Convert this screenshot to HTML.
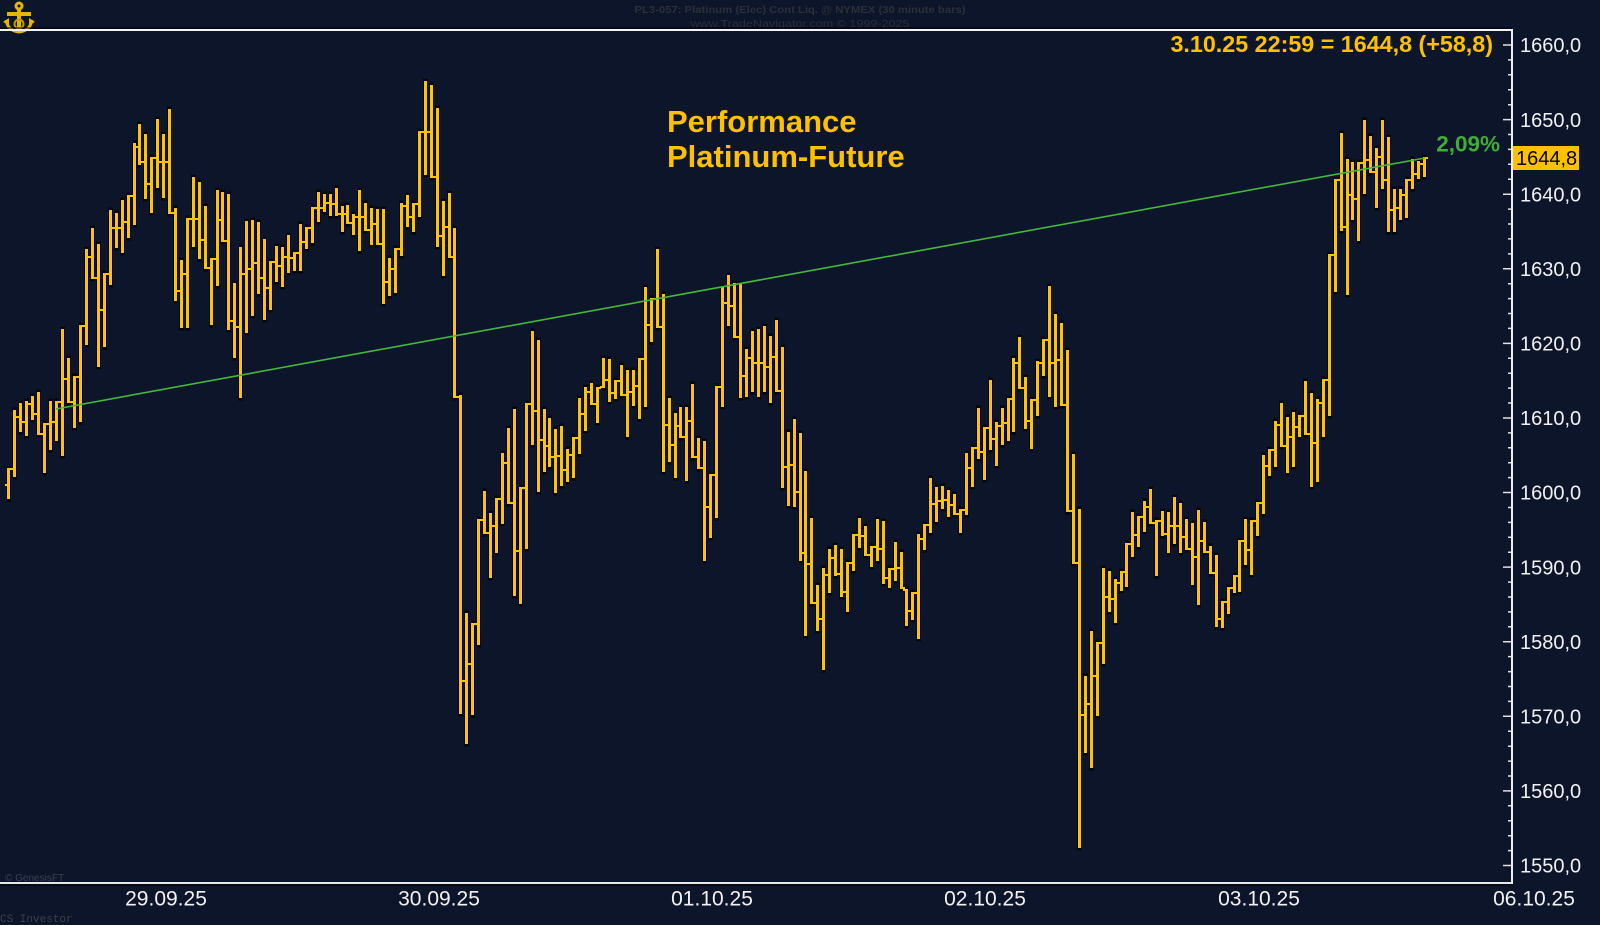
<!DOCTYPE html>
<html>
<head>
<meta charset="utf-8">
<style>
  html,body{margin:0;padding:0;background:#0d152b;}
  body{width:1600px;height:925px;overflow:hidden;}
  svg{display:block;}
  .ax{font-family:"Liberation Sans",Arial,sans-serif;font-size:20px;fill:#f2f2f2;}
  .dt{font-family:"Liberation Sans",Arial,sans-serif;font-size:21px;fill:#f2f2f2;}
</style>
</head>
<body>
<svg width="1600" height="925" viewBox="0 0 1600 925" xmlns="http://www.w3.org/2000/svg">
  <rect x="0" y="0" width="1600" height="925" fill="#0d152b"/>

  <!-- header texts -->
  <text x="800" y="13" text-anchor="middle" textLength="331" lengthAdjust="spacingAndGlyphs" font-family="'Liberation Sans Narrow','Liberation Sans',Arial,sans-serif" font-size="10.5" font-weight="bold" fill="#2b2f38">PL3-057:  Platinum (Elec) Cont Liq. @ NYMEX  (30 minute bars)</text>
  <text x="800" y="27" text-anchor="middle" textLength="219" lengthAdjust="spacingAndGlyphs" font-family="'Liberation Sans Narrow','Liberation Sans',Arial,sans-serif" font-size="10.5" fill="#2b2f38">www.TradeNavigator.com © 1999-2025</text>

  <!-- logo (anchor) -->
  <g fill="none" stroke="#e8b400" stroke-width="3">
    <circle cx="19" cy="6" r="3"/>
    <path d="M6 20 Q8 31 19 32 Q30 31 32 20"/>
  </g>
  <rect x="17" y="8" width="4" height="24" fill="#e8b400"/>
  <rect x="7" y="12" width="24" height="4" fill="#e8b400"/>
  <polygon points="3,22 9,18 9,25" fill="#e8b400"/>
  <polygon points="35,22 29,18 29,25" fill="#e8b400"/>
  <circle cx="19" cy="24" r="4.5" fill="none" stroke="#c99600" stroke-width="2"/>

  <!-- frame -->
  <line x1="0" y1="28" x2="1512" y2="28" stroke="#000" stroke-width="1"/>
  <rect x="0" y="29" width="1513" height="2" fill="#f4f4f4"/>
  <rect x="0" y="882" width="1513" height="2" fill="#e6e6e6"/>
  <line x1="0" y1="885" x2="1512" y2="885" stroke="#000" stroke-width="1"/>
  <rect x="1511" y="30" width="2" height="854" fill="#f0f0f0"/>

  <!-- axis ticks -->
  <path stroke="#e0e0e0" stroke-width="1.5" fill="none" d="
M1503 45H1511M1508 59.9H1511M1508 74.8H1511M1508 89.8H1511M1508 104.7H1511
M1503 119.6H1511M1508 134.5H1511M1508 149.4H1511M1508 164.3H1511M1508 179.3H1511
M1503 194.2H1511M1508 209.1H1511M1508 224H1511M1508 238.9H1511M1508 253.9H1511
M1503 268.8H1511M1508 283.7H1511M1508 298.6H1511M1508 313.5H1511M1508 328.4H1511
M1503 343.4H1511M1508 358.3H1511M1508 373.2H1511M1508 388.1H1511M1508 403H1511
M1503 418H1511M1508 432.9H1511M1508 447.8H1511M1508 462.7H1511M1508 477.6H1511
M1503 492.5H1511M1508 507.5H1511M1508 522.4H1511M1508 537.3H1511M1508 552.2H1511
M1503 567.1H1511M1508 582.1H1511M1508 597H1511M1508 611.9H1511M1508 626.8H1511
M1503 641.7H1511M1508 656.6H1511M1508 671.6H1511M1508 686.5H1511M1508 701.4H1511
M1503 716.3H1511M1508 731.2H1511M1508 746.2H1511M1508 761.1H1511M1508 776H1511
M1503 790.9H1511M1508 805.8H1511M1508 820.8H1511M1508 835.7H1511M1508 850.6H1511
M1503 865.5H1511"/>

  <!-- axis labels -->
  <text class="ax" x="1520" y="52.2">1660,0</text>
  <text class="ax" x="1520" y="126.8">1650,0</text>
  <text class="ax" x="1520" y="201.4">1640,0</text>
  <text class="ax" x="1520" y="276">1630,0</text>
  <text class="ax" x="1520" y="350.6">1620,0</text>
  <text class="ax" x="1520" y="425.2">1610,0</text>
  <text class="ax" x="1520" y="499.7">1600,0</text>
  <text class="ax" x="1520" y="574.3">1590,0</text>
  <text class="ax" x="1520" y="648.9">1580,0</text>
  <text class="ax" x="1520" y="723.5">1570,0</text>
  <text class="ax" x="1520" y="798.1">1560,0</text>
  <text class="ax" x="1520" y="872.7">1550,0</text>

  <!-- current price box -->
  <rect x="1513" y="146" width="66" height="24" fill="#ffc000"/>
  <text x="1516" y="165.2" font-family="'Liberation Sans',Arial,sans-serif" font-size="20" fill="#000">1644,8</text>

  <!-- date labels -->
  <text class="dt" x="166" y="905.5" text-anchor="middle">29.09.25</text>
  <text class="dt" x="439" y="905.5" text-anchor="middle">30.09.25</text>
  <text class="dt" x="712" y="905.5" text-anchor="middle">01.10.25</text>
  <text class="dt" x="985" y="905.5" text-anchor="middle">02.10.25</text>
  <text class="dt" x="1259" y="905.5" text-anchor="middle">03.10.25</text>
  <text class="dt" x="1534" y="905.5" text-anchor="middle">06.10.25</text>

  <!-- footers -->
  <text x="5" y="881" font-family="'Liberation Sans',Arial,sans-serif" font-size="10" fill="#3a4050">© GenesisFT</text>
  <text x="0" y="922" font-family="'Liberation Mono','Courier New',monospace" font-size="11" fill="#3c3f46">CS Investor</text>

  <!-- bars -->
  <defs>
    <path id="bars" d="M8.5 468V499M14.5 410V477M20.5 403V432M26.5 401V436M32.5 396V420M38.5 392V435M44.5 423V473M50.5 401V450M56.5 401V441M62.5 329V456
M68.5 358V403M74.5 376V428M80.5 325V422M86.5 249V345M92.5 228V279M98.5 244V367M104.5 273V347M110.5 210V285M116.5 213V248M122.5 200V253
M128.5 195V238M134.5 143V225M139.5 124V165M145.5 134V199M151.5 157V213M157.5 119V188M163.5 134V198M169.5 109V214M175.5 208V301M181.5 260V328
M187.5 218V328M193.5 177V247M199.5 182V259M205.5 206V269M211.5 258V325M217.5 190V286M222.5 192V242M228.5 194V330M234.5 283V358M240.5 247V398
M246.5 221V333M252.5 220V316M258.5 222V294M264.5 239V320M270.5 261V310M276.5 246V282M282.5 247V287M288.5 235V273M294.5 252V271M300.5 224V271
M306.5 227V249M312.5 207V243M318.5 192V222M324.5 194V212M330.5 194V216M336.5 188V216M342.5 206V232M347.5 205V224M353.5 214V235M359.5 190V251
M365.5 203V231M371.5 208V245M377.5 209V245M383.5 209V304M389.5 258V296M395.5 248V293M401.5 203V256M407.5 195V227M413.5 203V232M419.5 131V217
M425.5 81V175M431.5 85V178M437.5 108V247M443.5 201V276M449.5 193V258M454.5 228V398M460.5 395V714M466.5 613V744M472.5 623V715M478.5 519V645
M484.5 491V534M490.5 513V578M496.5 498V553M502.5 453V524M508.5 428V504M514.5 409V596M520.5 487V604M526.5 403V549M532.5 331V445M538.5 340V492
M544.5 409V472M549.5 418V467M555.5 429V493M561.5 426V486M567.5 449V482M573.5 437V478M579.5 398V454M585.5 387V431M591.5 383V405M597.5 387V423
M603.5 358V388M609.5 359V402M615.5 380V399M621.5 365V396M627.5 370V437M633.5 370V406M639.5 358V419M645.5 287V407M651.5 298V342M657.5 249V328
M663.5 294V472M669.5 398V462M675.5 413V478M680.5 407V438M686.5 407V481M692.5 384V458M698.5 438V469M704.5 441V561M710.5 474V538M716.5 386V518
M722.5 287V407M728.5 275V326M734.5 283V338M740.5 284V398M746.5 349V397M752.5 331V392M758.5 329V397M764.5 326V392M770.5 336V403M776.5 320V392
M782.5 347V488M788.5 432V506M794.5 419V507M800.5 433V561M805.5 471V636M811.5 518V604M817.5 585V631M823.5 568V670M829.5 549V593M835.5 545V576
M841.5 549V597M847.5 562V612M853.5 534V571M859.5 518V548M865.5 526V556M871.5 546V567M877.5 519V561M883.5 521V584M889.5 568V588M895.5 542V581
M901.5 552V589M906.5 589V626M912.5 592V620M918.5 534V639M924.5 524V550M930.5 478V533M936.5 487V522M942.5 486V509M948.5 490V517M954.5 494V515
M960.5 509V533M966.5 453V515M972.5 447V487M978.5 408V459M984.5 427V480M990.5 380V450M996.5 422V466M1002.5 408V445M1008.5 398V441M1013.5 358V432
M1019.5 337V389M1025.5 377V429M1031.5 399V449M1037.5 361V416M1043.5 339V376M1049.5 286V397M1055.5 314V407M1061.5 323V406M1067.5 350V512M1073.5 454V564
M1079.5 509V848M1085.5 676V753M1091.5 631V768M1097.5 642V716M1103.5 568V664M1109.5 571V612M1115.5 579V623M1121.5 571V591M1126.5 543V587M1132.5 512V557
M1138.5 516V547M1144.5 501V532M1150.5 489V524M1156.5 520V576M1162.5 511V536M1168.5 512V553M1174.5 497V544M1180.5 503V553M1186.5 519V550M1192.5 523V585
M1198.5 510V605M1204.5 522V553M1210.5 546V574M1216.5 555V627M1222.5 601V628M1228.5 587V614M1234.5 575V593M1239.5 540V592M1245.5 519V565M1251.5 520V575
M1257.5 502V536M1263.5 455V514M1269.5 449V476M1275.5 421V467M1281.5 403V447M1287.5 417V473M1293.5 412V467M1299.5 415V437M1305.5 381V435M1311.5 393V487
M1317.5 399V482M1323.5 379V437M1329.5 254V416M1335.5 179V292M1341.5 133V231M1347.5 159V295M1352.5 162V220M1358.5 162V241M1364.5 120V194M1370.5 136V173
M1376.5 148V208M1382.5 120V189M1388.5 137V232M1394.5 189V232M1400.5 189V220M1406.5 179V218M1412.5 159V189M1418.5 161V179M1424.5 157V177"/>
  </defs>
  <use href="#bars" fill="none" stroke="#03060d" stroke-width="5" stroke-linecap="square"/>
  <path id="ticks" d="" fill="none" stroke="#ffc20a" stroke-width="2"/>
  <use href="#bars" fill="none" stroke="#ffc20a" stroke-width="3"/>

  <!-- trend line -->
  <line x1="56" y1="409" x2="1425" y2="158" stroke="#45b83a" stroke-width="1.6"/>

  <!-- annotation texts -->
  <text x="667" y="132" font-family="'Liberation Sans',Arial,sans-serif" font-size="31" font-weight="bold" fill="#ffc000">Performance</text>
  <text x="667" y="167" font-family="'Liberation Sans',Arial,sans-serif" font-size="31" font-weight="bold" fill="#ffc000">Platinum-Future</text>
  <text x="1493" y="52" text-anchor="end" font-family="'Liberation Sans',Arial,sans-serif" font-size="23.3" font-weight="bold" fill="#ffc000">3.10.25 22:59 = 1644,8 (+58,8)</text>
  <text x="1500" y="151.5" text-anchor="end" font-family="'Liberation Sans',Arial,sans-serif" font-size="22.5" font-weight="bold" fill="#3fae37">2,09%</text>
</svg>
<script>
(function(){
  var p=document.getElementById('bars');
  var d=p.getAttribute('d');
  var re=/M([\d.]+) ([\d.]+)V([\d.]+)/g, m, B=[];
  while((m=re.exec(d))) B.push([+m[1],+m[2],+m[3]]);
  var prevC=485, s='';
  for(var i=0;i<B.length;i++){
    var x=B[i][0], t=B[i][1], b=B[i][2];
    var o=Math.min(b-1,Math.max(t+1,prevC));
    var c;
    if(i<B.length-1){var n=B[i+1]; c=(n[1]+n[2])/2 + ((i*37)%11-5);} else c=158;
    c=Math.min(b-1,Math.max(t+1,c));
    s+='M'+(x-3.5)+' '+Math.round(o)+'H'+(x-1.5)+'M'+(x+1.5)+' '+Math.round(c)+'H'+(x+3.5);
    prevC=c;
  }
  document.getElementById('ticks').setAttribute('d',s);
})();
</script>
</body>
</html>
